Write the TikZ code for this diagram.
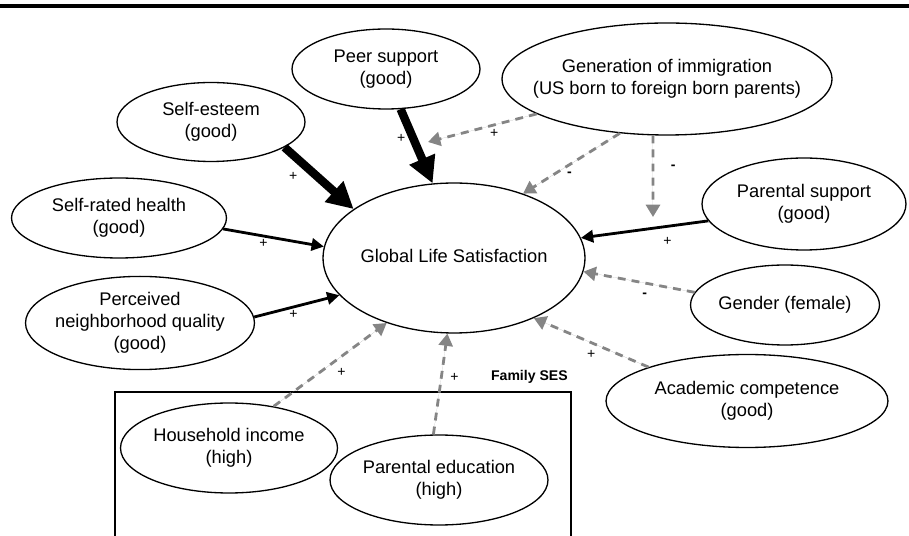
\documentclass[tikz,border=0pt]{standalone}
\usepackage{fontspec}
\setmainfont{Liberation Sans}
\usetikzlibrary{arrows.meta,shapes.geometric}
\newcommand{\vtxt}[1]{\makebox[0pt]{\begin{tabular}{@{}c@{}}#1\end{tabular}}}

\begin{document}
\begin{tikzpicture}[
    x=0.02cm, y=-0.02cm,
    var/.style 2 args={draw, ellipse, line width=0.75pt, inner sep=0pt,
        minimum width=#1, minimum height=#2,
        font=\fontsize{10.4}{12.5}\selectfont},
    heavy/.style={-{Triangle[length=15pt, width=15pt]}, line width=4.8pt},
    direct/.style={-{Triangle[length=7pt, width=7pt]}, line width=1.6pt},
    ctrl/.style={-{Triangle[length=7pt, width=8pt]}, line width=1.6pt,
        draw=black!48, fill=black!48, dash pattern=on 4.5pt off 3.5pt},
    sgn/.style={font=\fontsize{8}{9}\selectfont, inner sep=0pt}
    ]
    \useasboundingbox (0,0) rectangle (909,536);
    \draw[line width=2pt] (0,6) -- (909,6);

    \node[var={3.76cm}{1.6cm}]  (peer)    at (386,69)  {\vtxt{Peer support\\(good)}};
    \node[var={3.76cm}{1.58cm}] (selfest) at (211,122) {\vtxt{Self-esteem\\(good)}};
    \node[var={6.6cm}{2.24cm}]  (immig)   at (667,79)  {\vtxt{Generation of immigration\\(US born to foreign born parents)}};
    \node[var={4.08cm}{1.84cm}] (parsup)  at (804,204) {\vtxt{Parental support\\(good)}};
    \node[var={4.3cm}{1.6cm}]   (health)  at (119,218) {\vtxt{Self-rated health\\(good)}};
    \node[var={4.58cm}{1.8cm}]  (neigh)   at (140,323) {\vtxt{Perceived\\neighborhood quality\\(good)}};
    \node[var={5.24cm}{3.0cm}]  (gls)     at (454,258) {\vtxt{Global Life Satisfaction}};
    \node[var={3.78cm}{1.6cm}]  (gender)  at (785,305) {\vtxt{Gender (female)}};
    \node[var={5.64cm}{1.86cm}] (acad)    at (747,401) {\vtxt{Academic competence\\(good)}};
    \node[var={4.34cm}{1.8cm}]  (income)  at (229,448) {\vtxt{Household income\\(high)}};
    \node[var={4.36cm}{1.8cm}]  (pared)   at (439,480) {\vtxt{Parental education\\(high)}};

    % family SES frame
    \draw[line width=0.8pt] (115,536) |- (571,392) -- (571,536);
    \node[font=\bfseries\fontsize{8}{9}\selectfont, anchor=east, inner sep=0pt] (ses) at (568,377) {Family SES};

    \coordinate (peertip) at (428,142);
    \coordinate (suptip)  at (653,217);

    \draw[heavy]  (selfest.-19)   -- node[sgn, pos=0.28, xshift=-6pt, yshift=-7pt] (s1) {+} (gls.154);
    \draw[heavy]  (peer.-70)      -- node[sgn, pos=0.4, xshift=-7pt] (s2) {+} (gls.106.6);
    \draw[direct] (health.-6.6)   -- node[sgn, pos=0.4, yshift=-4.5pt] (s3) {+} (gls.175.6);
    \draw[direct] (neigh.3)       -- node[sgn, pos=0.46, yshift=-4pt] (s4) {+} (gls.-162.3);
    \draw[direct] (parsup.-170.6) -- node[sgn, pos=0.32, yshift=-8.5pt] (s5) {+} (gls.9.5);
    \draw[ctrl]   (immig.-165.5)  -- node[sgn, pos=0.39, yshift=-5pt] (s6) {+} (peertip);
    \draw[ctrl]   (immig.-131.2)  -- node[sgn, pos=0.52, yshift=-5.5pt] (s7) {\textbf{-}} (gls.43.7);
    \draw[ctrl]   (immig.-104)    -- node[sgn, pos=0.39, xshift=11.5pt] (s8) {\textbf{-}} (suptip);
    \draw[ctrl]   (gender.172.6)  -- node[sgn, pos=0.45, yshift=-7pt] (s9) {\textbf{-}} (gls.-6.6);
    \draw[ctrl]   (acad.161)      -- node[sgn, pos=0.5, yshift=-6.5pt] (s10) {+} (gls.-37.6);
    \draw[ctrl]   (income.43)     -- node[sgn, pos=0.6, yshift=-9pt] (s11) {+} (gls.-136.3);
    \draw[ctrl]   (pared.97)      -- node[sgn, pos=0.56, xshift=7.5pt] (s12) {+} (gls.-95.4);
\end{tikzpicture}
\end{document}
